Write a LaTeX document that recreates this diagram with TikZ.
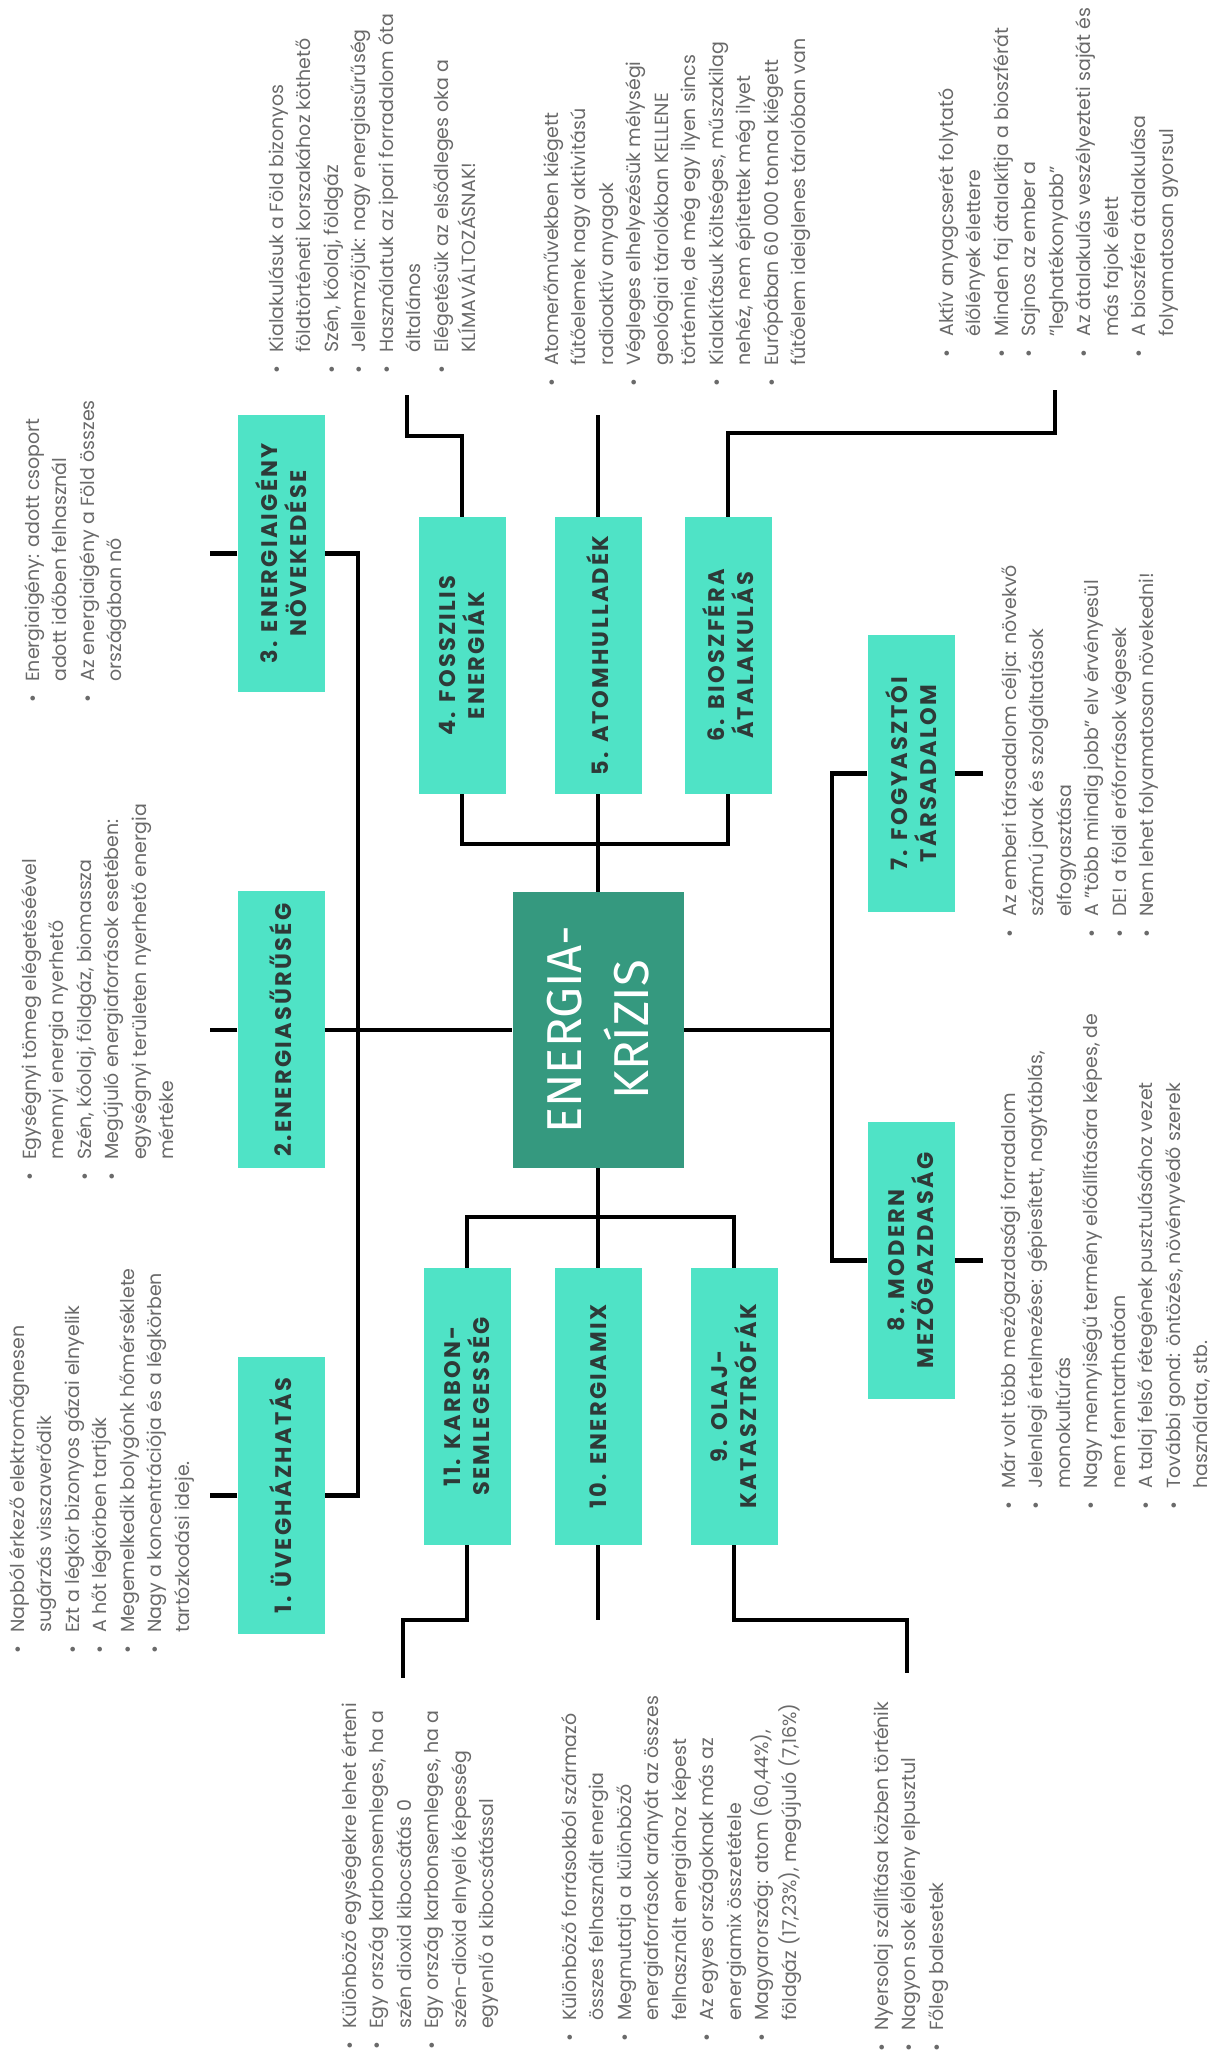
\documentclass[tikz,border=0pt]{standalone}
\usepackage{fontspec}
\setmainfont{Poppins}
\newfontfamily\lblfont[LetterSpace=10]{Poppins}
\newfontfamily\cfont{Fira Sans}
\definecolor{boxteal}{HTML}{4FE3C6}
\definecolor{centerteal}{HTML}{35997F}
\definecolor{lbl}{HTML}{2E3A38}
\definecolor{txtgray}{HTML}{6A6A6A}
\newcommand\bl{\strut\makebox[19pt][l]{\hspace*{-2pt}•}}
\newcommand\ct{\strut\hspace*{19pt}}
\tikzset{
  box/.style={fill=boxteal, minimum width=277pt, minimum height=87pt, inner sep=0pt, align=center,
    font={\lblfont\fontsize{22.5}{29}\selectfont\bfseries}, text=lbl},
  cbox/.style={fill=centerteal, minimum width=276pt, minimum height=171pt, inner sep=0pt, align=center,
    font={\cfont\fontsize{49}{67}\selectfont}, text=white},
  conn/.style={line width=4.5pt, draw=black},
  txt/.style={anchor=north west, align=left, inner sep=0pt,
    font={\fontsize{19}{27.5}\selectfont}, text=txtgray}
}
\begin{document}
\begin{tikzpicture}[x=1pt,y=1pt]
\useasboundingbox[fill=white] (0,0) rectangle (1215,2060);
\begin{scope}[rotate=90, transform shape]
% boxes
\node[cbox] (c) at (1030,-598) {ENERGIA-\\KRÍZIS};
\node[box] (b1) at (564.5,-281) {1. ÜVEGHÁZHATÁS};
\node[box] (b2) at (1030,-281) {2.ENERGIASŰRŰSÉG};
\node[box] (b3) at (1506.5,-281) {3. ENERGIAIGÉNY\\NÖVEKEDÉSE};
\node[box] (b4) at (1404.5,-462) {4. FOSSZILIS\\ENERGIÁK};
\node[box] (b5) at (1404.5,-598) {5. ATOMHULLADÉK};
\node[box] (b6) at (1404.5,-728) {6. BIOSZFÉRA\\ÁTALAKULÁS};
\node[box] (b7) at (1286.5,-911) {7. FOGYASZTÓI\\TÁRSADALOM};
\node[box] (b8) at (799.5,-911) {8. MODERN\\MEZŐGAZDASÁG};
\node[box] (b11) at (653.5,-467) {11. KARBON-\\SEMLEGESSÉG};
\node[box] (b10) at (653.5,-598) {10. ENERGIAMIX};
\node[box] (b9) at (653.5,-734) {9. OLAJ-\\KATASZTRÓFÁK};
% helper coordinates
\coordinate (trunkL) at (0,-358);
\coordinate (tl) at (0,-210);
\coordinate (jt) at (1216,0);
\coordinate (jb) at (843,0);
\coordinate (jr) at (0,-832);
\coordinate (tr) at (0,-983);
\coordinate (k4) at (1624,-407);
\coordinate (e4) at (1665,-407);
\coordinate (e5) at (1645,-598);
\coordinate (k6) at (1627,-1055);
\coordinate (e6) at (1670,-1055);
\coordinate (k11) at (440,-403);
\coordinate (e11) at (382,-403);
\coordinate (e10) at (440,-598);
\coordinate (k9) at (440,-907);
\coordinate (e9) at (387,-907);
% connectors
\draw[conn] (b3.south) -- (b3.south |- trunkL) -- (b1.south |- trunkL) -- (b1.south);
\draw[conn] (b2.south) -- (c.north);
\draw[conn] (b1.north) -- (b1.north |- tl);
\draw[conn] (b2.north) -- (b2.north |- tl);
\draw[conn] (b3.north) -- (b3.north |- tl);
\draw[conn] (c.east) -- (b5.west);
\draw[conn] (b4.west) -- (b4.west -| jt) -- (b6.west -| jt) -- (b6.west);
\draw[conn] (c.west) -- (b10.east);
\draw[conn] (b11.east) -- (b11.east -| jb) -- (b9.east -| jb) -- (b9.east);
\draw[conn] (c.south) -- (c.south |- jr);
\draw[conn] (b7.north) -- (b7.north |- jr) -- (b8.north |- jr) -- (b8.north);
\draw[conn] (b7.south) -- (b7.south |- tr);
\draw[conn] (b8.south) -- (b8.south |- tr);
\draw[conn] (b4.east) -- (b4.east -| k4) -- (k4) -- (e4);
\draw[conn] (b5.east) -- (e5);
\draw[conn] (b6.east) -- (b6.east -| k6) -- (k6) -- (e6);
\draw[conn] (b11.west) -- (b11.west -| k11) -- (k11) -- (e11);
\draw[conn] (b10.west) -- (e10);
\draw[conn] (b9.west) -- (b9.west -| k9) -- (k9) -- (e9);
% texts
\node[txt] (t1) at (408,-5) {\bl Napból érkező elektromágnesen\\
\ct sugárzás visszaverődik\\
\bl Ezt a légkör bizonyos gázai elnyelik\\
\bl A hőt légkörben tartják\\
\bl Megemelkedik bolygónk hőmérséklete\\
\bl Nagy a koncentrációja és a légkörben\\
\ct tartózkodási ideje.};
\node[txt] (t2) at (881,-17) {\bl Egységnyi tömeg elégetéséével\\
\ct mennyi energia nyerhető\\
\bl Szén, kőolaj, földgáz, biomassza\\
\bl Megújuló energiaforrások esetében:\\
\ct egységnyi területen nyerhető energia\\
\ct mértéke};
\node[txt] (t3) at (1359,-20) {\bl Energiaigény: adott csoport\\
\ct adott időben felhasznál\\
\bl Az energiaigény a Föld összes\\
\ct országában nő};
\node[txt] (t4) at (1688,-264) {\bl Kialakulásuk a Föld bizonyos\\
\ct földtörténeti korszakához köthető\\
\bl Szén, kőolaj, földgáz\\
\bl Jellemzőjük: nagy energiasűrűség\\
\bl Használatuk az ipari forradalom óta\\
\ct általános\\
\bl Elégetésük az elsődleges oka a\\
\ct KLÍMAVÁLTOZÁSNAK!};
\node[txt] (t5) at (1675,-539) {\bl Atomerőművekben kiégett\\
\ct fűtőelemek nagy aktivitású\\
\ct radioaktív anyagok\\
\bl Végleges elhelyezésük mélységi\\
\ct geológiai tárolókban KELLENE\\
\ct történnie, de még egy ilyen sincs\\
\bl Kialakításuk költséges, műszakilag\\
\ct nehéz, nem építettek még ilyet\\
\bl Európában 60 000 tonna kiégett\\
\ct fűtőelem ideiglenes tárolóban van};
\node[txt] (t6) at (1704,-934) {\bl Aktív anyagcserét folytató\\
\ct élőlények élettere\\
\bl Minden faj átalakítja a bioszférát\\
\bl Sajnos az ember a\\
\ct "leghatékonyabb"\\
\bl Az átalakulás veszélyezteti saját és\\
\ct más fajok élett\\
\bl A bioszféra átalakulása\\
\ct folyamatosan gyorsul};
\node[txt] (t7) at (1124,-997) {\bl Az emberi társadalom célja: növekvő\\
\ct számú javak és szolgáltatások\\
\ct elfogyasztása\\
\bl A "több mindig jobb" elv érvényesül\\
\bl DE! a földi erőforrások végesek\\
\bl Nem lehet folyamatosan növekedni!};
\node[txt] (t8) at (552,-996) {\bl Már volt több mezőgazdasági forradalom\\
\bl Jelenlegi értelmezése: gépiesített, nagytáblás,\\
\ct monokultúrás\\
\bl Nagy mennyiségű termény előállítására képes, de\\
\ct nem fenntarthatóan\\
\bl A talaj felső rétegének pusztulásához vezet\\
\bl További gond: öntözés, növényvédő szerek\\
\ct használata, stb.};
\node[txt] (t11) at (12,-337) {\bl Különböző egységekre lehet érteni\\
\bl Egy ország karbonsemleges, ha a\\
\ct szén dioxid kibocsátás 0\\
\bl Egy ország karbonsemleges, ha a\\
\ct szén-dioxid elnyelő képesség\\
\ct egyenlő a kibocsátással};
\node[txt] (t10) at (20,-557) {\bl Különböző forrásokból származó\\
\ct összes felhasznált energia\\
\bl Megmutatja a különböző\\
\ct energiaforrások arányát az összes\\
\ct felhasznált energiához képest\\
\bl Az egyes országoknak más az\\
\ct energiamix összetétele\\
\bl Magyarország: atom (60,44\%),\\
\ct földgáz (17,23\%), megújuló (7,16\%)};
\node[txt] (t9) at (10,-869) {\bl Nyersolaj szállítása közben történik\\
\bl Nagyon sok élőlény elpusztul\\
\bl Főleg balesetek};
\end{scope}
\end{tikzpicture}
\end{document}
